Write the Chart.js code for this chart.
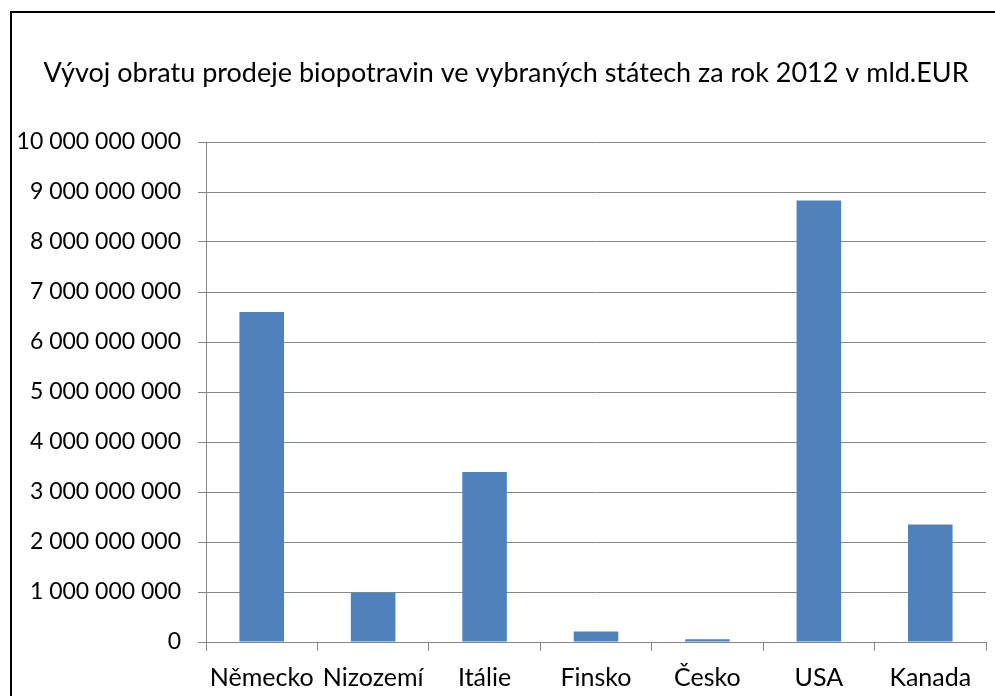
<!DOCTYPE html>
<html>
<head>
<meta charset="utf-8">
<script src="https://cdn.jsdelivr.net/npm/chart.js@4"></script>
<style>
  html, body { margin:0; padding:0; background:#fff; }
  #wrap { position:relative; width:995px; height:696px; overflow:hidden; }
  #frame { position:absolute; left:10px; top:11px; width:1000px; height:700px; border:2.5px solid #000; box-sizing:border-box; pointer-events:none; }
  canvas { position:absolute; left:0; top:0; }
</style>
</head>
<body>
<div id="wrap">
  <canvas id="c" width="995" height="696"></canvas>
  <div id="frame"></div>
</div>
<script>
const titleText = "Vývoj obratu prodeje biopotravin ve vybraných státech za rok 2012 v mld.EUR";
const categories = ["Německo", "Nizozemí", "Itálie", "Finsko", "Česko", "USA", "Kanada"];
const values = [6600000000, 990000000, 3400000000, 210000000, 55000000, 8830000000, 2350000000];
const yMin = 0, yMax = 10000000000, yStep = 1000000000;

function fmt(v) {
  return String(Math.round(v)).replace(/\B(?=(\d{3})+(?!\d))/g, " ");
}

const FONT = "Lato";

const titlePlugin = {
  id: "titleAt",
  afterDraw(chart) {
    const ctx = chart.ctx;
    ctx.save();
    ctx.font = "27px " + FONT;
    ctx.fillStyle = "#000";
    ctx.textAlign = "center";
    ctx.textBaseline = "middle";
    ctx.fillText(titleText, 506, 73);
    ctx.restore();
  }
};

new Chart(document.getElementById("c"), {
  type: "bar",
  data: {
    labels: categories,
    datasets: [{
      data: values,
      backgroundColor: "#4F81BD",
      borderWidth: 0,
      barPercentage: 0.4,
      categoryPercentage: 1.0
    }]
  },
  plugins: [titlePlugin],
  options: {
    responsive: false,
    animation: false,
    devicePixelRatio: 1,
    layout: { padding: { left: 0, right: 9, top: 142, bottom: 0 } },
    plugins: {
      legend: { display: false },
      tooltip: { enabled: false },
      title: { display: false }
    },
    scales: {
      x: {
        afterFit: function(s) { s.height = 54; },
        grid: { display: true, offset: true, drawOnChartArea: false, color: "#868686", tickLength: 9, lineWidth: 1 },
        border: { display: true, color: "#868686", width: 1 },
        ticks: { color: "#000", font: { family: FONT, size: 25 }, padding: 12, maxRotation: 0, autoSkip: false }
      },
      y: {
        min: yMin, max: yMax,
        afterFit: function(s) { s.width = 206; },
        grid: { color: "#868686", lineWidth: 1, tickLength: 8 },
        border: { display: true, color: "#868686", width: 1 },
        ticks: { stepSize: yStep, color: "#000", font: { family: FONT, size: 23 }, padding: 17, callback: v => fmt(v) }
      }
    }
  }
});
</script>
</body>
</html>
